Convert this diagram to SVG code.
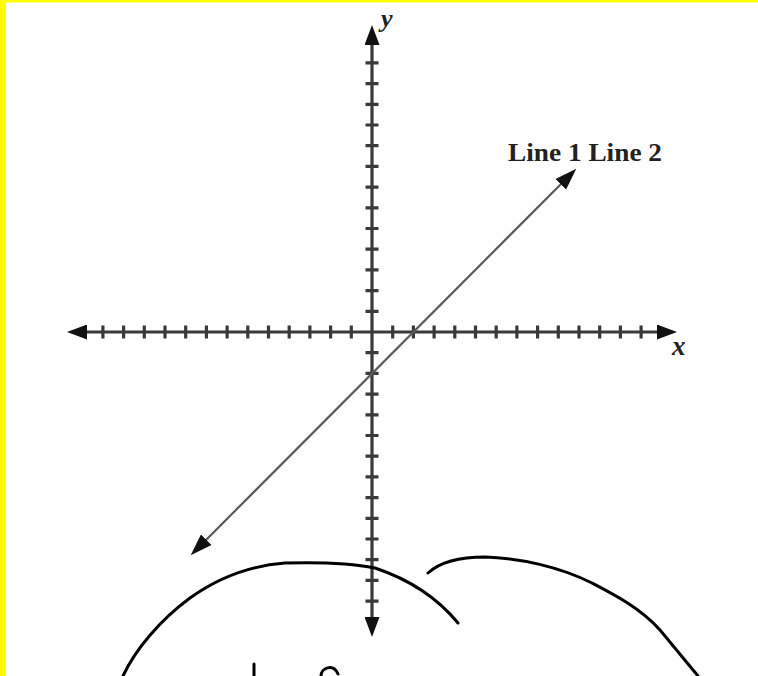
<svg xmlns="http://www.w3.org/2000/svg" width="758" height="676" viewBox="0 0 758 676">
  <style>
    .axis { stroke: #3a3a3a; stroke-width: 3.2; fill: none; }
    .tick { stroke: #3a3a3a; stroke-width: 3.2; fill: none; }
    .graph { stroke: #5a5a5a; stroke-width: 2.2; fill: none; }
    .ink { stroke: #000; stroke-width: 3; fill: none; stroke-linecap: round; stroke-linejoin: round; }
    .lbl { font-family: "Liberation Serif", "Times New Roman", serif; fill: #222; }
  </style>
  <defs>
    <marker id="axArrow" markerUnits="userSpaceOnUse" markerWidth="20" markerHeight="15" refX="5" refY="7.5" orient="auto-start-reverse" viewBox="0 0 20 15">
      <path d="M0,0 L20,7.5 L0,15 z" fill="#111"/>
    </marker>
    <marker id="lnArrow" markerUnits="userSpaceOnUse" markerWidth="22" markerHeight="15" refX="6" refY="7.5" orient="auto-start-reverse" viewBox="0 0 22 15">
      <path d="M0,0 L22,7.5 L0,15 z" fill="#111"/>
    </marker>
  </defs>
  <rect x="0" y="0" width="758" height="676" fill="#fff"/>
  <g id="border">
    <rect x="0" y="0" width="6" height="676" fill="#ffff00"/>
    <rect x="0" y="0" width="758" height="2.5" fill="#ffff00"/>
  </g>
  <g id="axes">
    <line class="axis" x1="82" y1="332" x2="662" y2="332" marker-start="url(#axArrow)" marker-end="url(#axArrow)"/>
    <line class="axis" x1="372" y1="40" x2="372" y2="622" marker-start="url(#axArrow)" marker-end="url(#axArrow)"/>
    <path class="tick" d="M102.9 325.5v13M123.6 325.5v13M144.3 325.5v13M165 325.5v13M185.7 325.5v13M206.4 325.5v13M227.1 325.5v13M247.8 325.5v13M268.5 325.5v13M289.2 325.5v13M309.9 325.5v13M330.6 325.5v13M351.3 325.5v13M392.7 325.5v13M413.4 325.5v13M434.1 325.5v13M454.8 325.5v13M475.5 325.5v13M496.2 325.5v13M516.9 325.5v13M537.6 325.5v13M558.3 325.5v13M579 325.5v13M599.7 325.5v13M620.4 325.5v13M641.1 325.5v13"/>
    <path class="tick" d="M365.5 62.9h13M365.5 83.6h13M365.5 104.3h13M365.5 125h13M365.5 145.7h13M365.5 166.4h13M365.5 187.1h13M365.5 207.8h13M365.5 228.5h13M365.5 249.2h13M365.5 269.9h13M365.5 290.6h13M365.5 311.3h13M365.5 352.7h13M365.5 373.4h13M365.5 394.1h13M365.5 414.8h13M365.5 435.5h13M365.5 456.2h13M365.5 476.9h13M365.5 497.6h13M365.5 518.3h13M365.5 539h13M365.5 559.7h13M365.5 580.4h13M365.5 601.1h13"/>
    <text class="lbl" x="381" y="27" font-size="26" font-style="italic" font-weight="bold">y</text>
    <text class="lbl" x="672" y="355" font-size="27" font-style="italic" font-weight="bold">x</text>
  </g>
  <g id="connectors">
    <line class="graph" x1="202" y1="544" x2="565" y2="180" marker-start="url(#lnArrow)" marker-end="url(#lnArrow)"/>
  </g>
  <g id="line-label">
    <text class="lbl" x="508" y="161" font-size="26" font-weight="bold" textLength="154" lengthAdjust="spacingAndGlyphs">Line 1 Line 2</text>
  </g>
  <g id="sketch">
    <path class="ink" d="M123 676 C 135 650, 160 620, 190 598 C 215 580, 245 566, 285 563 C 320 562, 355 564, 375 568 C 405 578, 435 595, 458 623"/>
    <path class="ink" d="M428 573 C 440 562, 458 557, 485 557 C 520 558, 560 567, 592 583 C 615 595, 640 608, 660 630 C 675 648, 688 664, 698 676"/>
    <path class="ink" d="M254 664 L254 676"/>
    <path class="ink" d="M321 676 C 321 668, 333 663, 338 674"/>
  </g>
</svg>
